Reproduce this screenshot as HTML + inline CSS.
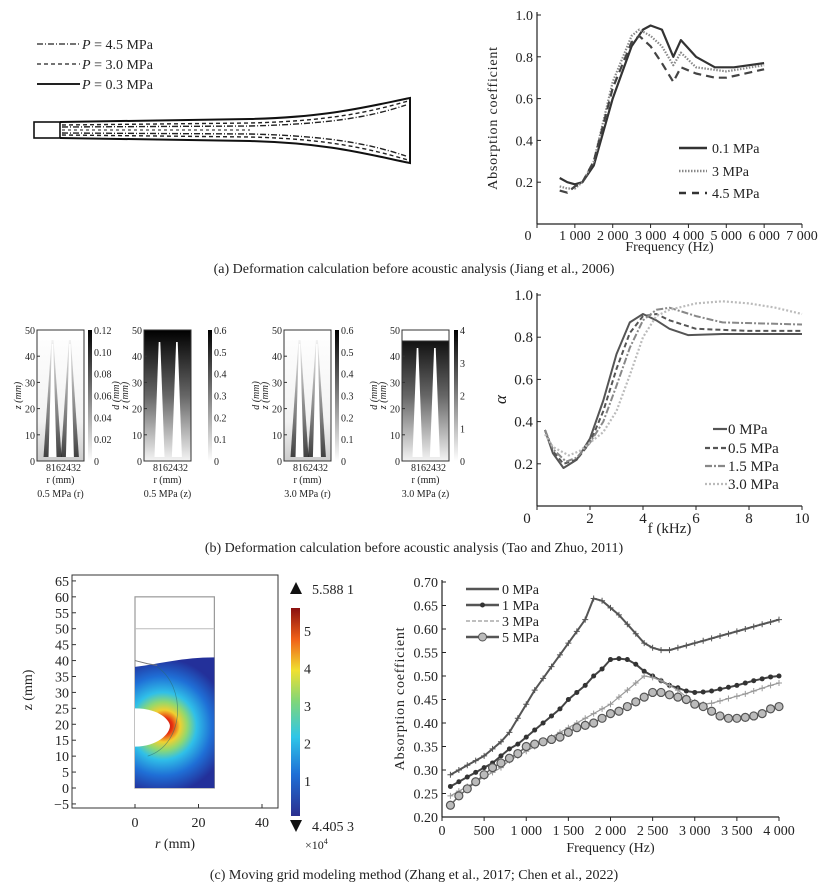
<!DOCTYPE html>
<html><head><meta charset="utf-8"><style>
html,body{margin:0;padding:0;background:#fff;}
svg{display:block;font-family:"Liberation Serif",serif;}
</style></head><body>
<svg id="s" width="828" height="892" viewBox="0 0 828 892" xmlns="http://www.w3.org/2000/svg">
<defs>
<linearGradient id="gbar" x1="0" y1="1" x2="0" y2="0"><stop offset="0" stop-color="#fff"/><stop offset="1" stop-color="#000"/></linearGradient>
<linearGradient id="gdark" x1="0" y1="1" x2="0" y2="0"><stop offset="0" stop-color="#f4f4f4"/><stop offset="0.5" stop-color="#666"/><stop offset="1" stop-color="#000"/></linearGradient>
<linearGradient id="glight" x1="0" y1="1" x2="0" y2="0"><stop offset="0" stop-color="#ccc"/><stop offset="0.3" stop-color="#f2f2f2"/><stop offset="1" stop-color="#fff"/></linearGradient>
<linearGradient id="gspike" x1="0" y1="1" x2="0" y2="0"><stop offset="0" stop-color="#111"/><stop offset="0.5" stop-color="#777"/><stop offset="1" stop-color="#eee"/></linearGradient>
<linearGradient id="jet" x1="0" y1="1" x2="0" y2="0"><stop offset="0" stop-color="#2b2f8f"/><stop offset="0.2" stop-color="#1f6fd6"/><stop offset="0.38" stop-color="#2fc6e8"/><stop offset="0.55" stop-color="#7fd67a"/><stop offset="0.7" stop-color="#f0e030"/><stop offset="0.85" stop-color="#f06018"/><stop offset="1" stop-color="#8a1010"/></linearGradient>
<radialGradient id="heat" gradientUnits="userSpaceOnUse" cx="160" cy="726" fx="165" fy="726" r="80"><stop offset="0" stop-color="#a01010"/><stop offset="0.1" stop-color="#e83010"/><stop offset="0.2" stop-color="#f0d030"/><stop offset="0.3" stop-color="#90d870"/><stop offset="0.42" stop-color="#30c0e8"/><stop offset="0.62" stop-color="#1f6fd6"/><stop offset="0.85" stop-color="#23309a"/></radialGradient>
</defs>
<g id="root"></g>
</svg>
<script>
// ---------- data ----------
const aFreq1 = [600,800,1000,1200,1500,2000,2500,2800,3000,3300,3600,3800,4200,4700,5200,6000];
const aVal01 = [0.22,0.20,0.19,0.20,0.28,0.60,0.85,0.93,0.95,0.93,0.80,0.88,0.80,0.75,0.75,0.77];
const aFreq2 = [600,800,1000,1200,1500,2000,2500,2700,3000,3300,3600,3800,4200,5000,6000];
const aVal3 = [0.18,0.17,0.17,0.20,0.30,0.68,0.90,0.93,0.90,0.85,0.76,0.82,0.75,0.73,0.76];
const aFreq3 = [600,800,1000,1200,1500,2000,2500,2700,3000,3300,3600,3800,4200,4700,5000,6000];
const aVal45 = [0.16,0.15,0.18,0.20,0.30,0.65,0.87,0.90,0.85,0.77,0.68,0.75,0.72,0.70,0.70,0.74];
const aTicksX = [0,1000,2000,3000,4000,5000,6000,7000];
const aTickLabelsX = ["0","1 000","2 000","3 000","4 000","5 000","6 000","7 000"];
const aTicksY = [0.2,0.4,0.6,0.8,1.0];

const bF0 = [0.3,0.6,1.0,1.5,2,2.5,3,3.5,4,4.5,5,5.7,7,10];
const bV0 = [0.36,0.25,0.18,0.22,0.32,0.50,0.72,0.87,0.91,0.88,0.84,0.81,0.815,0.815];
const bF05 = [0.3,0.6,1,1.5,2,2.5,3,3.5,4,4.5,5,6,8,10];
const bV05 = [0.36,0.26,0.20,0.22,0.30,0.45,0.65,0.82,0.90,0.91,0.88,0.84,0.83,0.83];
const bF15 = [0.3,0.6,1.1,1.5,2,2.5,3,3.5,4,4.5,5,6,7,10];
const bV15 = [0.36,0.27,0.21,0.23,0.30,0.40,0.57,0.75,0.88,0.93,0.94,0.90,0.87,0.86];
const bF30 = [0.3,0.6,1.2,1.6,2,2.5,3,3.5,4,4.5,5,6,7,8,9,10];
const bV30 = [0.34,0.28,0.24,0.26,0.30,0.35,0.45,0.62,0.80,0.90,0.93,0.96,0.97,0.96,0.94,0.91];
const bTicksX = [0,2,4,6,8,10];
const bTicksY = [0.2,0.4,0.6,0.8,1.0];

const cF = [100,200,300,400,500,600,700,800,900,1000,1100,1200,1300,1400,1500,1600,1700,1800,1900,2000,2100,2200,2300,2400,2500,2600,2700,2800,2900,3000,3100,3200,3300,3400,3500,3600,3700,3800,3900,4000];
const cV0 = [0.29,0.30,0.31,0.32,0.33,0.345,0.36,0.38,0.41,0.44,0.47,0.495,0.52,0.545,0.57,0.595,0.62,0.665,0.66,0.645,0.63,0.61,0.59,0.57,0.56,0.555,0.555,0.56,0.565,0.57,0.575,0.58,0.585,0.59,0.595,0.60,0.605,0.61,0.615,0.62];
const cV1 = [0.265,0.275,0.285,0.295,0.305,0.315,0.33,0.345,0.355,0.37,0.385,0.40,0.415,0.43,0.45,0.465,0.48,0.50,0.515,0.535,0.537,0.535,0.525,0.51,0.50,0.49,0.48,0.475,0.468,0.465,0.466,0.468,0.472,0.476,0.48,0.485,0.49,0.494,0.498,0.50];
const cV3 = [0.245,0.255,0.265,0.275,0.285,0.295,0.305,0.32,0.33,0.34,0.35,0.36,0.37,0.38,0.39,0.40,0.41,0.42,0.43,0.44,0.455,0.47,0.485,0.50,0.497,0.49,0.48,0.47,0.455,0.445,0.44,0.442,0.447,0.452,0.457,0.462,0.468,0.474,0.48,0.485];
const cV5 = [0.225,0.245,0.26,0.275,0.29,0.305,0.315,0.325,0.335,0.35,0.355,0.36,0.365,0.37,0.38,0.39,0.395,0.40,0.41,0.42,0.425,0.435,0.445,0.455,0.465,0.465,0.46,0.455,0.45,0.44,0.435,0.425,0.415,0.41,0.41,0.412,0.415,0.42,0.43,0.435];
const cTicksX = [0,500,1000,1500,2000,2500,3000,3500,4000];
const cTickLabelsX = ["0","500","1 000","1 500","2 000","2 500","3 000","3 500","4 000"];
const cTicksY = [0.20,0.25,0.30,0.35,0.40,0.45,0.50,0.55,0.60,0.65,0.70];

const zTicks = [-5,0,5,10,15,20,25,30,35,40,45,50,55,60,65];
const rTicks = [0,20,40];
const cbTicks = [1,2,3,4,5];

// ---------- helpers ----------
const NS="http://www.w3.org/2000/svg";
const root=document.getElementById('root');
function mk(tag,attrs,parent,text){const e=document.createElementNS(NS,tag);for(const k in attrs)e.setAttribute(k,attrs[k]);if(text!==undefined)e.textContent=text;(parent||root).appendChild(e);return e;}
function grp(name){const g=mk('g',{});


return g;}
function lineFrom(xs,ys,sx,sy){return xs.map((x,i)=>(i?'L':'M')+sx(x).toFixed(1)+','+sy(ys[i]).toFixed(1)).join(' ');}
function txt(g,x,y,s,size,anchor,name,extra){const t=mk('text',Object.assign({x:x,y:y,'font-size':size,'text-anchor':anchor||'start',fill:'#222'},extra||{}),g,s);


return t;}

// ================= (a) left: horn drawing =================
(function(){
const g=grp('horn-deformation-drawing');
const legs=[["P = 4.5 MPa","6 2 1 2",48],["P = 3.0 MPa","4 3",68],["P = 0.3 MPa","",88]];
legs.forEach((l,i)=>{const lg=mk('g',{},g);


mk('line',{x1:37,y1:l[2]-4,x2:80,y2:l[2]-4,stroke:'#222','stroke-width':i==2?2:1.3,'stroke-dasharray':l[1]},lg);
const t=txt(lg,82,l[2]+1,'',14,'start','horn-legend-label');
mk('tspan',{'font-style':'italic'},t,'P');mk('tspan',{},t,l[0].slice(1));});
mk('rect',{x:34,y:122,width:26,height:16,fill:'none',stroke:'#111','stroke-width':1.6},g);
const outer='M60,122 L250,119 C330,117 370,106 410,98 L410,163 C370,155 330,143 250,141 L60,138';
mk('path',{d:outer,fill:'none',stroke:'#111','stroke-width':2},g);
mk('path',{d:'M62,125 L250,123 C330,121 370,112 408,101 M62,135 L250,137 C330,139 370,149 408,160',fill:'none',stroke:'#222','stroke-width':1.4,'stroke-dasharray':'4 3'},g);
mk('path',{d:'M62,127 L250,126 C330,124 370,117 406,105 M62,133 L250,134 C330,136 370,144 406,156',fill:'none',stroke:'#222','stroke-width':1.4,'stroke-dasharray':'6 2 1 2'},g);
mk('path',{d:'M62,130 L250,130',fill:'none',stroke:'#444','stroke-width':1.2,'stroke-dasharray':'3 3'},g);
})();

// ================= generic line chart =================
function lineChart(o){
const g=grp(o.name);
const sx=v=>o.x0+(v-o.xmin)/(o.xmax-o.xmin)*(o.x1-o.x0);
const sy=v=>o.y0-(v-o.ymin)/(o.ymax-o.ymin)*(o.y0-o.y1);
mk('line',{x1:o.x0,y1:o.y0,x2:o.x1,y2:o.y0,stroke:'#222','stroke-width':1.2},g);
mk('line',{x1:o.x0,y1:o.y0,x2:o.x0,y2:o.yTop,stroke:'#222','stroke-width':1.2},g);
o.xt.forEach((v,i)=>{mk('line',{x1:sx(v),y1:o.y0,x2:sx(v),y2:o.y0-(o.tickIn?4:-4),stroke:'#222'},g);
txt(g,sx(v)+(o.xtShift&&i==0?o.xtShift:0),o.y0+o.xlOff,o.xl[i],o.fs,'middle','x-tick-label');});
o.yt.forEach((v,i)=>{mk('line',{x1:o.x0,y1:sy(v),x2:o.x0+4,y2:sy(v),stroke:'#222'},g);
txt(g,o.x0-4,sy(v)+5,o.yl[i],o.fs,'end','y-tick-label');});
txt(g,(o.x0+o.x1)/2,o.xTitleY,o.xTitle,o.fs,'middle','x-axis-title',o.xTitleAttr);
txt(g,0,0,o.yTitle,o.fs,'middle','y-axis-title',Object.assign({transform:`translate(${o.yTitleX},${(o.y0+o.yTop)/2}) rotate(-90)`},o.yTitleAttr||{}));
o.series.forEach(s=>{const p=mk('path',{d:lineFrom(s.x,s.y,sx,sy),fill:'none',stroke:s.c,'stroke-width':s.w,'stroke-dasharray':s.d||'','stroke-linejoin':'round'},g);


if(s.m){s.x.forEach((x,i)=>{const mm=s.m==='o'?mk('circle',{cx:sx(x),cy:sy(s.y[i]),r:4,fill:'#bbb',stroke:'#555','stroke-width':1.2},g):
s.m==='*'?mk('circle',{cx:sx(x),cy:sy(s.y[i]),r:2.5,fill:'#333'},g):
mk('path',{d:`M${sx(x)-3},${sy(s.y[i])}h6M${sx(x)},${sy(s.y[i])-3}v6`,stroke:s.c,'stroke-width':1},g);

});}});
o.legend.forEach((L,i)=>{const lg=mk('g',{},g);


const y=L.y;mk('line',{x1:L.lx0,y1:y,x2:L.lx1,y2:y,stroke:L.c,'stroke-width':L.w,'stroke-dasharray':L.d||''},lg);
if(L.m==='o')mk('circle',{cx:(L.lx0+L.lx1)/2,cy:y,r:4,fill:'#bbb',stroke:'#555'},lg);
if(L.m==='*')mk('circle',{cx:(L.lx0+L.lx1)/2,cy:y,r:2.5,fill:'#333'},lg);
txt(lg,L.tx,y+5,L.t,o.fs,'start','legend-label');});
return g;}

// (a) right
lineChart({name:'chart-a-absorption',x0:537,x1:802,xmin:0,xmax:7000,y0:224,y1:15,yTop:12,ymin:0,ymax:1.0,
xt:aTicksX,xl:aTickLabelsX,xlOff:16,xtShift:-9,yt:aTicksY,yl:aTicksY.map(v=>v.toFixed(1)),fs:14,
xTitle:'Frequency (Hz)',xTitleY:251,yTitle:'Absorption coefficient',yTitleX:497,yTitleAttr:{'letter-spacing':'0.8'},
series:[{n:'0.1MPa',x:aFreq1,y:aVal01,c:'#333',w:2.2},{n:'3MPa',x:aFreq2,y:aVal3,c:'#888',w:2.2,d:'1.5 1.5'},{n:'4.5MPa',x:aFreq3,y:aVal45,c:'#444',w:2.2,d:'8 5'}],
legend:[{y:148,lx0:679,lx1:707,tx:712,t:'0.1 MPa',c:'#333',w:2.5},{y:171,lx0:679,lx1:707,tx:712,t:'3 MPa',c:'#888',w:2.5,d:'1.5 1.5'},{y:193,lx0:679,lx1:707,tx:712,t:'4.5 MPa',c:'#333',w:2.5,d:'7 6'}]});
txt(grp('caption-a'),414,273,'(a) Deformation calculation before acoustic analysis (Jiang et al., 2006)',14,'middle','caption-a');

// (b) right
lineChart({name:'chart-b-alpha',x0:537,x1:802,xmin:0,xmax:10,y0:506,y1:295,yTop:293,ymin:0,ymax:1.0,
xt:bTicksX,xl:bTicksX.map(String),xlOff:17,xtShift:-10,yt:bTicksY,yl:bTicksY.map(v=>v.toFixed(1)),fs:15,
xTitle:'f (kHz)',xTitleY:533,xTitleAttr:{'font-style':'normal'},yTitle:'α',yTitleX:506,yTitleAttr:{'font-style':'italic','font-size':17},
series:[{n:'0MPa',x:bF0,y:bV0,c:'#555',w:2},{n:'0.5MPa',x:bF05,y:bV05,c:'#555',w:2,d:'5 3'},{n:'1.5MPa',x:bF15,y:bV15,c:'#888',w:2,d:'7 2 2 2'},{n:'3.0MPa',x:bF30,y:bV30,c:'#bbb',w:2.2,d:'2 2'}],
legend:[{y:429,lx0:713,lx1:727,tx:728,t:'0 MPa',c:'#555',w:2.2},{y:448,lx0:705,lx1:727,tx:728,t:'0.5 MPa',c:'#555',w:2.2,d:'5 3'},{y:466,lx0:705,lx1:727,tx:728,t:'1.5 MPa',c:'#888',w:2.2,d:'7 2 2 2'},{y:484,lx0:705,lx1:727,tx:728,t:'3.0 MPa',c:'#bbb',w:2.2,d:'2 2'}]});

// (b) left small contour panels
(function(){
const panels=[{x:37,cb:88,lab:['0','0.02','0.04','0.06','0.08','0.10','0.12'],fill:'url(#glight)',spike:'dark',t:'0.5 MPa (r)',top:0},
{x:144,cb:208,lab:['0','0.1','0.2','0.3','0.4','0.5','0.6'],fill:'url(#gdark)',spike:'white',t:'0.5 MPa (z)',top:0},
{x:284,cb:335,lab:['0','0.1','0.2','0.3','0.4','0.5','0.6'],fill:'url(#glight)',spike:'dark',t:'3.0 MPa (r)',top:0},
{x:402,cb:454,lab:['0','1','2','3','4'],fill:'url(#gdark)',spike:'white',t:'3.0 MPa (z)',top:1}];
const yT=330,yB=461,w=47;
panels.forEach((p,k)=>{const g=grp('contour-panel-'+(k+1));
mk('rect',{x:p.x,y:yT,width:w,height:yB-yT,fill:p.fill,stroke:'#333','stroke-width':1},g);
if(p.top)mk('rect',{x:p.x,y:yT,width:w,height:11,fill:'#fff',stroke:'#333'},g);
[0.33,0.7].forEach(f=>{const cx=p.x+w*f;
if(p.spike==='dark'){mk('path',{d:`M${cx-9},${yB-4} L${cx-1},${yT+10} L${cx+1},${yT+10} L${cx+9},${yB-4}Z`,fill:'url(#gspike)',opacity:0.75},g);
mk('path',{d:`M${cx-4},${yB-4} L${cx-0.7},${yT+14} L${cx+0.7},${yT+14} L${cx+4},${yB-4}Z`,fill:'#fff'},g);}
else mk('path',{d:`M${cx-5},${yB-4} L${cx-0.8},${yT+(p.top?18:12)} L${cx+0.8},${yT+(p.top?18:12)} L${cx+5},${yB-4}Z`,fill:'#fff'},g);});
for(let i=0;i<=5;i++){const y=yB-i*(yB-yT)/5;mk('line',{x1:p.x,y1:y,x2:p.x+3,y2:y,stroke:'#333'},g);txt(g,p.x-2,y+4,String(i*10),10,'end','z-tick-label');}
mk('rect',{x:p.cb,y:yT,width:4,height:yB-yT,fill:'url(#gbar)'},g);
const n=p.lab.length-1;p.lab.forEach((l,i)=>{const y=yB-i*(yB-yT)/n;txt(g,p.cb+6,y+4,l,10,'start','colorbar-label');});
txt(g,0,0,'z (mm)',10,'middle','z-axis-title',{transform:`translate(${p.x-16},${(yT+yB)/2}) rotate(-90)`,'font-style':'italic'});
if(k>0)txt(g,0,0,'d (mm)',10,'middle','d-axis-title',{transform:`translate(${p.x-25},${(yT+yB)/2}) rotate(-90)`,'font-style':'italic'});
txt(g,p.x+w/2+3,471,'8162432',10,'middle','r-tick-labels');
txt(g,p.x+w/2,483,'r (mm)',10,'middle','r-axis-title');
txt(g,p.x+w/2,497,p.t,10,'middle','panel-label');});
})();
txt(grp('caption-b'),414,552,'(b) Deformation calculation before acoustic analysis (Tao and Zhuo, 2011)',14,'middle','caption-b');

// (c) left field plot
(function(){
const g=grp('field-plot');
const sx=v=>135+v*63.5/20, sy=v=>788-v*15.93/5;
mk('rect',{x:72,y:575,width:206,height:233,fill:'#fff',stroke:'#333'},g);
zTicks.forEach(v=>{mk('line',{x1:72,y1:sy(v),x2:76,y2:sy(v),stroke:'#333'},g);txt(g,69,sy(v)+5,v<0?'−'+(-v):String(v),14,'end','z-tick-label');});
rTicks.forEach(v=>{mk('line',{x1:sx(v),y1:808,x2:sx(v),y2:804,stroke:'#333'},g);txt(g,sx(v),827,String(v),14,'middle','r-tick-label');});
txt(g,0,0,'z (mm)',14,'middle','z-axis-title',{transform:'translate(32,690) rotate(-90)'});
const rt=txt(g,175,848,'',14,'middle','r-axis-title');mk('tspan',{'font-style':'italic'},rt,'r');mk('tspan',{},rt,' (mm)');
mk('rect',{x:sx(0),y:sy(60),width:sx(25)-sx(0),height:sy(0)-sy(60),fill:'none',stroke:'#999','stroke-width':1.2},g);
mk('line',{x1:sx(0),y1:sy(50),x2:sx(25),y2:sy(50),stroke:'#bbb'},g);
mk('path',{d:`M${sx(0)},${sy(38)} C${sx(8)},${sy(39)} ${sx(15)},${sy(41)} ${sx(25)},${sy(41)} L${sx(25)},${sy(0)} L${sx(0)},${sy(0)}Z`,fill:'url(#heat)'},g);
mk('path',{d:`M${sx(0)},${sy(25)} C${sx(8)},${sy(25)} ${sx(11)},${sy(21)} ${sx(11)},${sy(19.5)} C${sx(11)},${sy(17)} ${sx(7)},${sy(13)} ${sx(0)},${sy(13)}Z`,fill:'#fff'},g);
mk('path',{d:`M${sx(0)},${sy(40)} L${sx(4)},${sy(39)} L${sx(7)},${sy(38.5)}`,fill:'none',stroke:'#777'},g);
mk('path',{d:`M${sx(7)},${sy(38)} C${sx(16)},${sy(32)} ${sx(16)},${sy(14)} ${sx(4)},${sy(10)}`,fill:'none',stroke:'#2a6a6a','stroke-width':0.7,opacity:0.6},g);
// colorbar
mk('rect',{x:291,y:608,width:9,height:208,fill:'url(#jet)'},g);
cbTicks.forEach(v=>txt(g,304,631+(5-v)*37.5+5,String(v),14,'start','colorbar-label'));
mk('path',{d:'M290,594 L296,582 L302,594Z',fill:'#111'},g);
mk('path',{d:'M290,820 L296,832 L302,820Z',fill:'#111'},g);
txt(g,312,594,'5.588 1',14,'start','colorbar-max');
txt(g,312,831,'4.405 3',14,'start','colorbar-min');
const e=txt(g,305,849,'×10',12,'start','colorbar-exponent');mk('tspan',{dy:-5,'font-size':8},e,'4');
})();

// (c) right
lineChart({name:'chart-c-absorption',x0:442,x1:779,xmin:0,xmax:4000,y0:817,y1:582,yTop:580,ymin:0.20,ymax:0.70,
xt:cTicksX,xl:cTickLabelsX,xlOff:18,yt:cTicksY,yl:cTicksY.map(v=>v.toFixed(2)),fs:14,
xTitle:'Frequency (Hz)',xTitleY:852,yTitle:'Absorption coefficient',yTitleX:404,yTitleAttr:{'letter-spacing':'0.8'},
series:[{n:'0MPa',x:cF,y:cV0,c:'#555',w:2,m:'+'},{n:'1MPa',x:cF,y:cV1,c:'#444',w:2,m:'*'},{n:'3MPa',x:cF,y:cV3,c:'#999',w:1.2,m:'+'},{n:'5MPa',x:cF,y:cV5,c:'#666',w:1.5,m:'o'}],
legend:[{y:589,lx0:466,lx1:499,tx:502,t:'0 MPa',c:'#555',w:2.5},{y:605,lx0:466,lx1:499,tx:502,t:'1 MPa',c:'#555',w:2.5,m:'*'},{y:621,lx0:466,lx1:499,tx:502,t:'3 MPa',c:'#aaa',w:1.5,d:'4 2'},{y:637,lx0:466,lx1:499,tx:502,t:'5 MPa',c:'#555',w:2.5,m:'o'}]});
txt(grp('caption-c'),414,879,'(c) Moving grid modeling method (Zhang et al., 2017; Chen et al., 2022)',14,'middle','caption-c');
</script>
</body></html>
